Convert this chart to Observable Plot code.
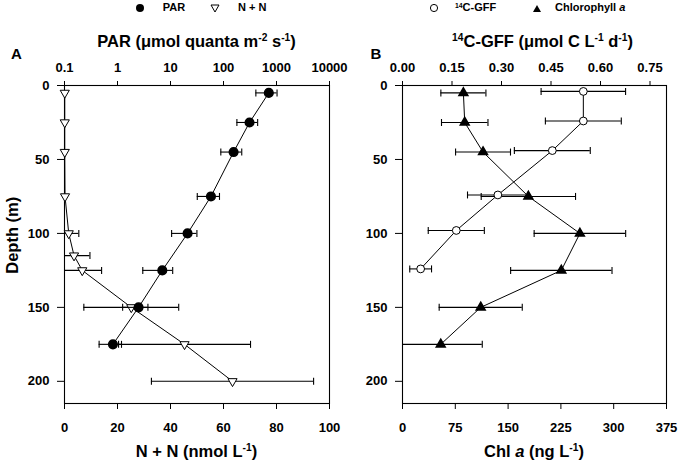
<!DOCTYPE html>
<html><head><meta charset="utf-8">
<script src="https://cdn.jsdelivr.net/npm/d3@7"></script>
<script src="https://cdn.jsdelivr.net/npm/@observablehq/plot@0.6"></script>
<style>
html,body{margin:0;padding:0;background:#fff;}
#wrap{position:relative;width:680px;height:462px;overflow:hidden;font-family:"Liberation Sans",Arial,sans-serif;color:#000;}
#wrap > svg{position:absolute;top:0;}
.t{position:absolute;font-weight:bold;white-space:nowrap;line-height:1;}
.t sup{font-size:62%;vertical-align:0;position:relative;top:-0.55em;}
.lg{position:absolute;}
</style></head><body><div id="wrap"></div>
<script>
// ---------- data ----------
const parDepth = [5, 25, 45, 75, 100, 125, 150, 175];
const parMean  = [716, 310, 155, 58, 21, 7.0, 2.5, 0.82];
const parSd    = [308, 131, 66, 26, 10.5, 4.0, 1.25, 0.37];

const nnDepth = [5, 25, 45, 75, 100, 115, 125, 150, 175, 200];
const nnMean  = [0.1, 0.1, 0.1, 0.2, 1.6, 3.6, 6.7, 25.2, 45.3, 63.4];
const nnSd    = [0, 0, 0, 0, 3.8, 6.0, 7.3, 17.9, 24.9, 30.6];

const gffDepth = [4, 24, 44, 74, 98, 124];
const gffMean  = [0.548, 0.548, 0.454, 0.289, 0.163, 0.055];
const gffSd    = [0.128, 0.115, 0.115, 0.092, 0.085, 0.033];

const chlDepth = [5, 25, 45, 75, 100, 125, 150, 175];
const chlMean  = [86.5, 88.4, 114.4, 178.8, 252, 225.6, 111.1, 54.3];
const chlSd    = [32, 33, 39, 67, 65, 72, 59, 59];

const depthTicks = [0, 50, 100, 150, 200];
const parTicks = [0.1, 1, 10, 100, 1000, 10000];
const nnTicks = [0, 20, 40, 60, 80, 100];
const gffTicks = [0, 0.15, 0.30, 0.45, 0.60, 0.75];
const chlTicks = [0, 75, 150, 225, 300, 375];

// ---------- helpers ----------
const rows = (d, m, s) => d.map((dep, i) => ({d: dep, v: m[i], lo: m[i] - s[i], hi: m[i] + s[i]}));
const par = rows(parDepth, parMean, parSd);
const nn = rows(nnDepth, nnMean, nnSd);
const gff = rows(gffDepth, gffMean, gffSd);
const chl = rows(chlDepth, chlMean, chlSd);

const cap = {draw(ctx) { ctx.moveTo(0, -3.5); ctx.lineTo(0, 3.5); }};
const errMarks = (data) => [
  Plot.ruleY(data.filter(r => r.hi > r.lo), {y: "d", x1: "lo", x2: "hi", stroke: "black", strokeWidth: 1.1, clip: true}),
  Plot.dot(data.filter(r => r.hi > r.lo), {x: "lo", y: "d", symbol: cap, fill: "none", stroke: "black", strokeWidth: 1.1, clip: true}),
  Plot.dot(data.filter(r => r.hi > r.lo), {x: "hi", y: "d", symbol: cap, fill: "none", stroke: "black", strokeWidth: 1.1, clip: true})
];

const W = 340, H = 462;
const baseStyle = {background: "transparent", fontFamily: "'Liberation Sans', Arial, sans-serif", fontSize: "13px", fontWeight: "bold", color: "black", overflow: "visible"};
function make(opts) {
  return Plot.plot({
    width: W, height: H, marginTop: 85, marginBottom: 59,
    marginLeft: opts.ml, marginRight: opts.mr,
    x: opts.x,
    y: Object.assign({domain: [0, 215], reverse: true}, opts.y || {}),
    style: baseStyle,
    marks: opts.marks
  });
}

const wrap = document.getElementById("wrap");
function place(svg, left) { svg.style.left = left + "px"; svg.style.position = "absolute"; svg.style.top = "0px"; wrap.appendChild(svg); }

const yAxis = () => Plot.axisY({anchor: "left", ticks: depthTicks, tickSize: 7, tickPadding: 8, label: null});

// Panel A bottom (N+N)
place(make({ml: 64, mr: 11,
  x: {type: "linear", domain: [0, 100]},
  marks: [
    Plot.frame({stroke: "black", strokeWidth: 1.1}),
    Plot.axisX({anchor: "bottom", ticks: nnTicks, tickSize: 6, tickPadding: 13, label: null}),
    yAxis(),
    Plot.line(nn, {x: "v", y: "d", stroke: "black", strokeWidth: 1}),
    ...errMarks(nn),
    Plot.dot(nn, {x: "v", y: "d", symbol: "triangle", rotate: 180, r: 3.4, fill: "white", stroke: "black", strokeWidth: 1})
  ]}), 0);

// Panel A top (PAR, log)
place(make({ml: 64, mr: 11,
  x: {type: "log", domain: [0.1, 10000]},
  y: {axis: null},
  marks: [
    Plot.axisX({anchor: "top", ticks: parTicks, tickFormat: d => String(d), tickSize: 5, tickPadding: 9, label: null}),
    Plot.line(par, {x: "v", y: "d", stroke: "black", strokeWidth: 1}),
    ...errMarks(par),
    Plot.dot(par, {x: "v", y: "d", r: 4.3, fill: "black", stroke: "black"})
  ]}), 0);

// Panel B bottom (Chl a)
place(make({ml: 62, mr: 14,
  x: {type: "linear", domain: [0, 375]},
  marks: [
    Plot.frame({stroke: "black", strokeWidth: 1.1}),
    Plot.axisX({anchor: "bottom", ticks: chlTicks, tickSize: 6, tickPadding: 13, label: null}),
    yAxis(),
    Plot.line(chl, {x: "v", y: "d", stroke: "black", strokeWidth: 1}),
    ...errMarks(chl),
    Plot.dot(chl, {x: "v", y: "d", symbol: "triangle", r: 3.3, fill: "black", stroke: "black"})
  ]}), 340);

// Panel B top (14C-GFF)
place(make({ml: 62, mr: 14,
  x: {type: "linear", domain: [0, 0.8]},
  y: {axis: null},
  marks: [
    Plot.axisX({anchor: "top", ticks: gffTicks, tickFormat: d3.format(".2f"), tickSize: 5, tickPadding: 9, label: null}),
    Plot.line(gff, {x: "v", y: "d", stroke: "black", strokeWidth: 1}),
    ...errMarks(gff),
    Plot.dot(gff, {x: "v", y: "d", r: 3.9, fill: "white", stroke: "black", strokeWidth: 1})
  ]}), 340);

// ---------- text & legend ----------
function txt(html, css) {
  const el = document.createElement("div");
  el.className = "t"; el.innerHTML = html;
  Object.assign(el.style, css);
  wrap.appendChild(el);
  return el;
}
// titles
txt("PAR (μmol quanta m<sup>-2</sup> s<sup>-1</sup>)", {left: "64px", width: "265px", textAlign: "center", top: "32.5px", fontSize: "16.5px"});
txt("<sup>14</sup>C-GFF (μmol C L<sup>-1</sup> d<sup>-1</sup>)", {left: "410px", width: "265px", textAlign: "center", top: "32.5px", fontSize: "16.5px"});
txt("N + N (nmol L<sup>-1</sup>)", {left: "64px", width: "265px", textAlign: "center", top: "442.7px", fontSize: "16.5px"});
txt("Chl <i>a</i> (ng L<sup>-1</sup>)", {left: "402px", width: "264px", textAlign: "center", top: "442.7px", fontSize: "16.5px"});
txt("A", {left: "11px", top: "45.6px", fontSize: "15px"});
txt("B", {left: "370.5px", top: "45.6px", fontSize: "15px"});
txt("Depth (m)", {left: "-88px", width: "200px", textAlign: "center", top: "227px", fontSize: "16.5px", lineHeight: "16.5px", transform: "rotate(-90deg)", transformOrigin: "50% 50%"});

// legend
function icon(cx, cy, shape) {
  const s = document.createElementNS("http://www.w3.org/2000/svg", "svg");
  s.setAttribute("width", 14); s.setAttribute("height", 14);
  s.setAttribute("class", "lg");
  s.style.left = (cx - 7) + "px"; s.style.top = (cy - 7) + "px"; s.style.position = "absolute";
  s.innerHTML = shape;
  wrap.appendChild(s);
}
icon(140, 8.3, '<circle cx="7" cy="7" r="4" fill="black"/>');
icon(215, 8, '<path d="M3,4 L11,4 L7,11 Z" fill="white" stroke="black" stroke-width="1"/>');
icon(434, 8.3, '<circle cx="7" cy="7" r="3.6" fill="white" stroke="black" stroke-width="1"/>');
icon(537.3, 8, '<path d="M3,11 L11,11 L7,4 Z" fill="black"/>');
txt("PAR", {left: "162.7px", top: "2.4px", fontSize: "11px"});
txt("N + N", {left: "238px", top: "2.4px", fontSize: "11px"});
txt("<sup>14</sup>C-GFF", {left: "455px", top: "2.4px", fontSize: "11px"});
txt("Chlorophyll <i>a</i>", {left: "555px", top: "2.4px", fontSize: "11px"});
</script></body></html>
